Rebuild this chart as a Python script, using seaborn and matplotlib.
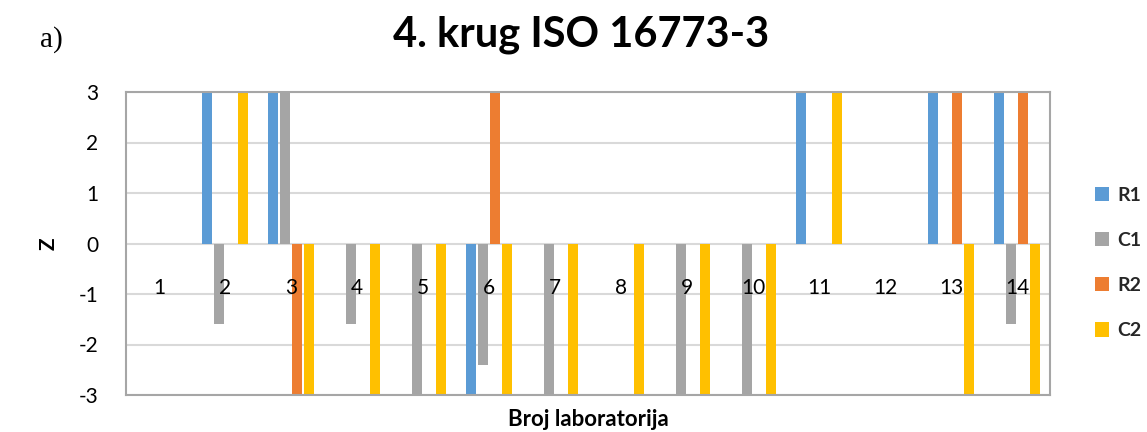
import matplotlib
matplotlib.use("Agg")
import matplotlib.pyplot as plt
from matplotlib.patches import Patch
import seaborn as sns
import pandas as pd

# Z-scores per laboratory for the four measured quantities
labs = [str(i) for i in range(1, 15)]
r1 = [0, 3, 3, 0, 0, -3, 0, 0, 0, 0, 3, 0, 3, 3]
c1 = [0, -1.6, 3, -1.6, -3, -2.4, -3, 0, -3, -3, 0, 0, 0, -1.6]
r2 = [0, 0, -3, 0, 0, 3, 0, 0, 0, 0, 0, 0, 3, 3]
c2 = [0, 3, -3, -3, -3, -3, -3, -3, -3, -3, 3, 0, -3, -3]
series = ["R1", "C1", "R2", "C2"]
colors = ["#5B9BD5", "#A5A5A5", "#ED7D31", "#FFC000"]
yticks = [-3, -2, -1, 0, 1, 2, 3]

df = pd.DataFrame({
    "lab": labs * 4,
    "serija": [s for s in series for _ in labs],
    "z": r1 + c1 + r2 + c2,
})

sns.set_theme(style="white")
plt.rcParams["font.family"] = ["Lato", "DejaVu Sans"]

fig = plt.figure(figsize=(11.47, 4.32), dpi=100)
ax = fig.add_axes([126 / 1147, 1 - 395 / 432, 924 / 1147, 303 / 432])

sns.barplot(data=df, x="lab", y="z", hue="serija", order=labs,
            hue_order=series, palette=colors, saturation=1, errorbar=None,
            width=0.72, gap=0.18, linewidth=0, ax=ax, legend=False)

ax.set_ylim(-3, 3)
ax.set_xlim(-0.5, len(labs) - 0.5)
ax.set_yticks(yticks)
ax.set_yticklabels([str(t) for t in yticks], fontsize=15, color="#000000")
ax.tick_params(axis="y", length=0, pad=20)
ax.set_xticks(range(len(labs)))
ax.set_xticklabels([])
ax.tick_params(axis="x", length=0)

# horizontal gridlines behind the bars
ax.set_axisbelow(True)
ax.yaxis.grid(True, color="#D9D9D9", linewidth=1.5)
ax.xaxis.grid(False)
for sp in ax.spines.values():
    sp.set_visible(True)
    sp.set_color("#A6A6A6")
    sp.set_linewidth(1.5)

# category labels sit just below the zero line
for i, lab in enumerate(labs):
    ax.text(i, -0.89, lab, ha="center", va="center", fontsize=15, color="#000000")

ax.set_xlabel("Broj laboratorija", fontsize=16, fontweight="bold", color="#000000")
ax.xaxis.label.set_va("center")
ax.xaxis.set_label_coords(0.5, -0.082)
ax.set_ylabel("Z", fontsize=15, fontweight="bold", color="#000000")
ax.yaxis.set_label_coords(-0.073, 0.5)

handles = [Patch(facecolor=c, edgecolor="none") for c in colors]
ax.legend(handles, series, loc="center left", bbox_to_anchor=(1.04, 0.436),
          frameon=False, prop={"weight": "bold", "size": 14},
          handlelength=0.75, handleheight=0.75, handletextpad=0.4,
          labelspacing=1.45, borderaxespad=0)

fig.text(0.507, 1 - 35 / 432, "4. krug ISO 16773-3", ha="center", va="center",
         fontsize=30, fontweight="bold", color="#000000")
fig.text(51 / 1147, 1 - 40 / 432, "a)", ha="center", va="center",
         fontsize=21, family="Liberation Serif", color="#000000")

fig.savefig("out.png", dpi=100, facecolor="white")
